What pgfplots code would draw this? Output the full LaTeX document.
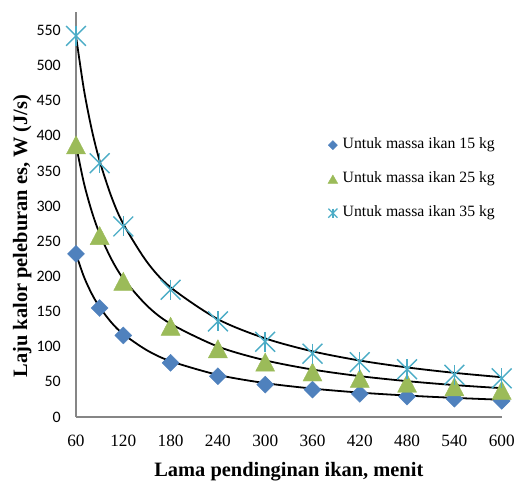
\documentclass[border=0pt]{standalone}
\usepackage{pgfplots}
\pgfplotsset{compat=1.18}
\usepackage{fontspec}
\setmainfont{Liberation Serif}
\newfontfamily\calibri{Carlito}
\definecolor{blueM}{HTML}{4F81BD}
\definecolor{greenM}{HTML}{9BBB59}
\definecolor{cyanM}{HTML}{4BACC6}
\definecolor{axisgray}{HTML}{868686}
\begin{document}
\begin{tikzpicture}
\useasboundingbox (-76bp,-67bp) rectangle (449bp,417bp);
\begin{axis}[
  at={(0,0)}, anchor=south west,
  scale only axis, width=425.7bp, height=405bp,
  xmin=60, xmax=600, ymin=0, ymax=576,
  axis lines*=left,
  axis line style={draw=axisgray, line width=1.3bp},
  xtick={60,120,...,600}, ytick={0,50,...,550},
  major tick length=0pt,
  clip=false,
  /pgf/number format/assume math mode=true,
  xticklabel style={font=\fontsize{17.3}{18}\selectfont, anchor=base, yshift=-29.7bp, inner sep=0pt},
  yticklabel style={font=\calibri\fontsize{16}{17}\selectfont, anchor=east, xshift=-15bp, inner sep=0pt},
  xlabel={Lama pendinginan ikan, menit},
  ylabel={Laju kalor peleburan es, W (J/s)},
  xlabel style={font=\bfseries\fontsize{20.5}{22}\selectfont, at={(axis description cs:0.5,-0.1474)}, anchor=base},
  ylabel style={font=\bfseries\fontsize{20.5}{22}\selectfont, at={(axis description cs:-0.1151,0.447)}, anchor=base},
  legend cell align=left,
  legend style={at={(axis cs:379.7,396.9)}, anchor=north west, draw=none, fill=none,
    inner sep=0pt, outer sep=0pt, row sep=19.5bp, column sep=5bp,
    font=\fontsize{15.8}{17}\selectfont,
    nodes={inner sep=0pt, text height=11bp, text depth=3.5bp}},
]
% 15 kg
\addplot[only marks, mark=square*, mark size=6bp,
  mark options={rotate=45, fill=blueM, draw=blueM},
  legend image code/.code={\draw[mark=square*, mark size=3.2bp, mark options={rotate=45, fill=blueM, draw=blueM}] plot coordinates {(0bp,0bp)};}]
  coordinates {(60,232) (90,155) (120,116) (180,77) (240,58) (300,46) (360,39) (420,33) (480,29) (540,26) (600,23)};
\addlegendentry{Untuk massa ikan 15 kg}
% 25 kg
\addplot[only marks, mark=triangle*, mark size=11bp,
  mark options={yshift=-3bp, yscale=1.1, fill=greenM, draw=greenM},
  legend image code/.code={\draw[mark=triangle*, mark size=5.6bp, mark options={yshift=-1.4bp, fill=greenM, draw=greenM}] plot coordinates {(0bp,0bp)};}]
  coordinates {(60,387) (90,258) (120,193) (180,129) (240,97) (300,78) (360,64) (420,55) (480,48) (540,43) (600,38)};
\addlegendentry{Untuk massa ikan 25 kg}
% 35 kg
\addplot[only marks, mark=x, mark size=14bp,
  mark options={draw=cyanM, line width=1.4bp},
  legend image code/.code={\draw[mark=x, mark size=6.4bp, mark options={draw=cyanM, line width=1.3bp}] plot coordinates {(0bp,0bp)};
    \draw[mark=|, mark size=4.5bp, mark options={draw=cyanM, line width=1.3bp}] plot coordinates {(0bp,0bp)};}]
  coordinates {(60,542) (90,361) (120,271) (180,181) (240,136) (300,107) (360,90) (420,78) (480,68) (540,60) (600,55)};
\addlegendentry{Untuk massa ikan 35 kg}
\addplot[forget plot, only marks, mark=|, mark size=10bp,
  mark options={draw=cyanM, line width=1.4bp}]
  coordinates {(60,542) (90,361) (120,271) (180,181) (240,136) (300,107) (360,90) (420,78) (480,68) (540,60) (600,55)};
% trend lines
\addplot[forget plot, black, line width=1.8bp, smooth, mark=none]
  coordinates {(60,232) (70,199.6) (80,175.2) (90,156.2) (105,134.3) (120,117.9) (150,94.9) (180,79.4) (240,59.9) (300,48.2) (360,40.4) (420,34.7) (480,30.5) (540,27.2) (600,24.5)};
\addplot[forget plot, black, line width=1.8bp, smooth, mark=none]
  coordinates {(60,387) (70,333.0) (80,292.3) (90,260.6) (105,224.3) (120,196.9) (150,158.4) (180,132.6) (240,100.2) (300,80.6) (360,67.5) (420,58.1) (480,51.0) (540,45.4) (600,41.0)};
\addplot[forget plot, black, line width=1.8bp, smooth, mark=none]
  coordinates {(60,542) (70,466.0) (80,408.7) (90,364.2) (105,313.0) (120,274.6) (150,220.6) (180,184.4) (240,139.1) (300,111.8) (360,93.4) (420,80.3) (480,70.5) (540,62.8) (600,56.6)};
\end{axis}
\end{tikzpicture}
\end{document}
